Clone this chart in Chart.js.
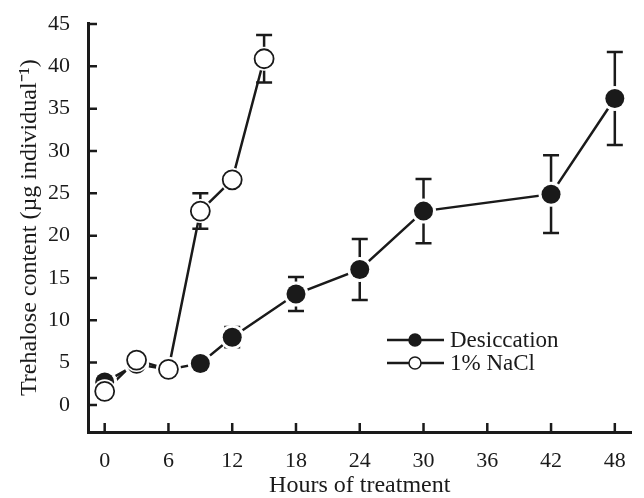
<!DOCTYPE html>
<html><head><meta charset="utf-8">
<script src="https://cdn.jsdelivr.net/npm/chart.js@4"></script>
<style>html,body{margin:0;padding:0;background:#fff}#wrap{width:644px;height:498px}</style>
</head><body><div id="wrap"><canvas id="c" width="644" height="498"></canvas></div>
<script>
// ---- data ----
const hoursDesiccation = [0, 3, 6, 9, 12, 18, 24, 30, 42, 48];
const desiccation      = [2.7, 4.8, 4.2, 4.9, 8.0, 13.1, 16.0, 22.9, 24.9, 36.2];
const desiccationErr   = [0.7, 0.9, 0.6, 0.6, 1.2, 2.0, 3.6, 3.8, 4.6, 5.5];
const hoursNaCl = [0, 3, 6, 9, 12, 15];
const nacl      = [1.6, 5.3, 4.2, 22.9, 26.6, 40.9];
const naclErr   = [0.8, 0.7, 0.6, 2.1, 0.6, 2.8];
const xTickValues = [0, 6, 12, 18, 24, 30, 36, 42, 48];
const yTickValues = [0, 5, 10, 15, 20, 25, 30, 35, 40, 45];
const seriesNames = ['Desiccation', '1% NaCl'];
const xTitle = 'Hours of treatment';
const yTitle = 'Trehalose content (\u00B5g individual\u207B\u00B9)';

// ---- styling ----
const INK = '#1a1a1a';
const FONT = '"Liberation Serif", "Times New Roman", serif';
const toXY = (xs, ys) => xs.map((x, i) => ({x: x, y: ys[i]}));

const dPts = toXY(hoursDesiccation, desiccation);
const nPts = toXY(hoursNaCl, nacl);

const decor = {
  id: 'decor',
  beforeDatasetsDraw(chart) { chart.$ebDone = false; },
  beforeDatasetDraw(chart, args) {
    if (chart.$ebDone || args.index !== 2) return;
    chart.$ebDone = true;
    const ctx = chart.ctx, xs = chart.scales.x, ys = chart.scales.y;
    ctx.save();
    ctx.strokeStyle = INK; ctx.lineWidth = 2.5; ctx.lineCap = 'butt';
    const draw = (hs, vals, errs) => {
      hs.forEach((h, i) => {
        const px = xs.getPixelForValue(h);
        const top = ys.getPixelForValue(vals[i] + errs[i]);
        const bot = ys.getPixelForValue(vals[i] - errs[i]);
        ctx.beginPath();
        ctx.moveTo(px, top); ctx.lineTo(px, bot);
        ctx.moveTo(px - 8, top); ctx.lineTo(px + 8, top);
        ctx.moveTo(px - 8, bot); ctx.lineTo(px + 8, bot);
        ctx.stroke();
      });
    };
    draw(hoursDesiccation, desiccation, desiccationErr);
    draw(hoursNaCl, nacl, naclErr);
    ctx.restore();
  },
  afterDraw(chart) {
    const ctx = chart.ctx, xs = chart.scales.x, ys = chart.scales.y, a = chart.chartArea;
    ctx.save();
    ctx.strokeStyle = INK; ctx.lineWidth = 2.5;
    // inward tick marks
    ctx.beginPath();
    xs.ticks.forEach(t => { const px = xs.getPixelForValue(t.value); ctx.moveTo(px, a.bottom); ctx.lineTo(px, a.bottom - 9); });
    ys.ticks.forEach(t => { const py = ys.getPixelForValue(t.value); ctx.moveTo(a.left, py); ctx.lineTo(a.left + 9, py); });
    ctx.stroke();
    // legend
    const rows = [{y: 340, filled: true}, {y: 363, filled: false}];
    ctx.font = '23px ' + FONT; ctx.fillStyle = INK; ctx.textBaseline = 'middle'; ctx.textAlign = 'left';
    rows.forEach((r, i) => {
      ctx.lineWidth = 2.5; ctx.strokeStyle = INK;
      ctx.beginPath(); ctx.moveTo(387, r.y); ctx.lineTo(444, r.y); ctx.stroke();
      ctx.beginPath(); ctx.arc(415, r.y, 6, 0, Math.PI * 2);
      ctx.fillStyle = r.filled ? INK : '#fff'; ctx.fill();
      ctx.lineWidth = 1.5; ctx.stroke();
      ctx.fillStyle = INK;
      ctx.fillText(seriesNames[i], 450, r.y + 1);
    });
    ctx.restore();
  }
};

new Chart(document.getElementById('c'), {
  type: 'line',
  data: {
    datasets: [
      {label: seriesNames[0], data: dPts, borderColor: INK, borderWidth: 2.5, pointRadius: 0, fill: false, tension: 0, order: 10},
      {label: seriesNames[1], data: nPts, borderColor: INK, borderWidth: 2.5, pointRadius: 0, fill: false, tension: 0, order: 10},
      {label: 'dHalo', data: dPts, showLine: false, pointRadius: 12.5, pointBackgroundColor: '#fff', pointBorderWidth: 0, pointBorderColor: '#fff', order: 4},
      {label: 'dMark', data: dPts, showLine: false, pointRadius: 9.5, pointBackgroundColor: INK, pointBorderWidth: 0, pointBorderColor: INK, order: 3},
      {label: 'nHalo', data: nPts, showLine: false, pointRadius: 12, pointBackgroundColor: '#fff', pointBorderWidth: 0, pointBorderColor: '#fff', order: 2},
      {label: 'nMark', data: nPts, showLine: false, pointRadius: 9.5, pointBackgroundColor: '#fff', pointBorderWidth: 1.8, pointBorderColor: INK, order: 1}
    ]
  },
  options: {
    responsive: false,
    animation: false,
    devicePixelRatio: 1,
    events: [],
    layout: {padding: {top: 20, right: 4, left: 0, bottom: 0}},
    plugins: {legend: {display: false}, tooltip: {enabled: false}},
    scales: {
      x: {
        type: 'linear', position: 'bottom', min: -1.57, max: 49.57,
        afterBuildTicks: s => { s.ticks = xTickValues.map(v => ({value: v})); },
        afterFit: s => { s.height = 66; },
        grid: {display: false},
        border: {display: true, color: INK, width: 3},
        ticks: {color: INK, font: {family: FONT, size: 22}, padding: 8, maxRotation: 0, autoSkip: false},
        title: {display: true, text: xTitle, color: INK, font: {family: FONT, size: 24, lineHeight: 1}, padding: {top: 0, bottom: 0}}
      },
      y: {
        type: 'linear', position: 'left', min: -3.2, max: 45.1,
        afterBuildTicks: s => { s.ticks = yTickValues.map(v => ({value: v})); },
        afterFit: s => { s.width = 88; },
        grid: {display: false},
        border: {display: true, color: INK, width: 3},
        ticks: {color: INK, font: {family: FONT, size: 22}, padding: 10, autoSkip: false},
        title: {display: true, text: yTitle, color: INK, font: {family: FONT, size: 24, lineHeight: 1.2}, padding: {top: 15, bottom: 0}}
      }
    }
  },
  plugins: [decor]
});
</script></body></html>
